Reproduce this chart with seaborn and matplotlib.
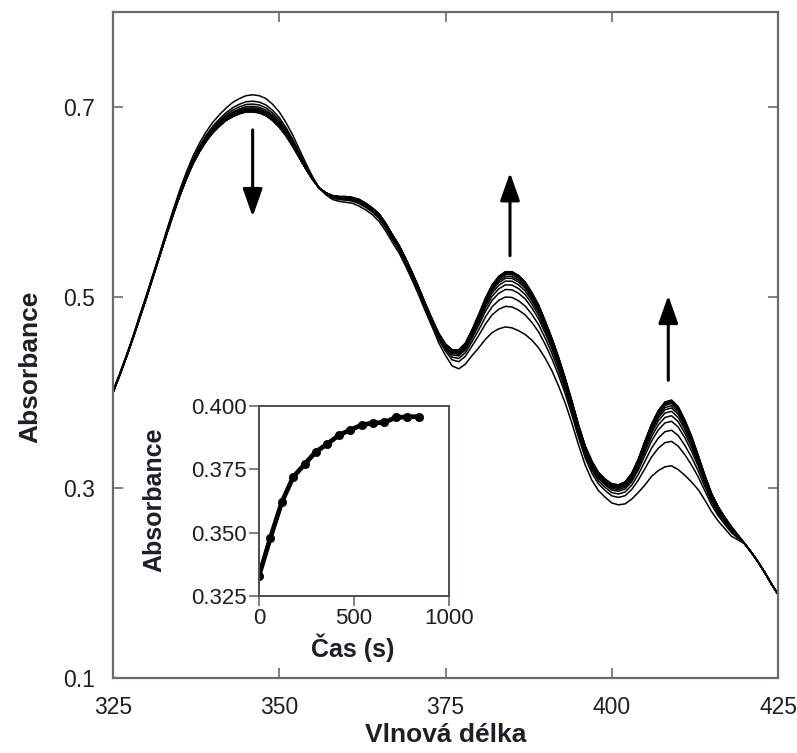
import numpy as np
import pandas as pd
import matplotlib
matplotlib.use("Agg")
import matplotlib.pyplot as plt
import seaborn as sns

sns.set_style("ticks")
plt.rcParams['font.family'] = ['Liberation Sans', 'DejaVu Sans']

# --- spektra (krok 1 nm) ---
wavelength = list(range(325, 426))
# prvni sken (t = 0)
abs_first = [0.402, 0.420, 0.439, 0.459, 0.481, 0.502, 0.524, 0.546, 0.569, 0.591,
             0.612, 0.631, 0.648, 0.662, 0.674, 0.684, 0.692, 0.699, 0.705, 0.709,
             0.712, 0.713, 0.712, 0.709, 0.703, 0.695, 0.684, 0.671, 0.656, 0.641,
             0.627, 0.615, 0.608, 0.603, 0.601, 0.600, 0.599, 0.596, 0.592, 0.587,
             0.580, 0.570, 0.558, 0.547, 0.533, 0.518, 0.502, 0.485, 0.469, 0.452,
             0.439, 0.428, 0.425, 0.430, 0.439, 0.447, 0.456, 0.463, 0.467, 0.469,
             0.468, 0.465, 0.461, 0.455, 0.447, 0.436, 0.423, 0.407, 0.389, 0.368,
             0.345, 0.324, 0.308, 0.297, 0.290, 0.284, 0.282, 0.283, 0.288, 0.295,
             0.303, 0.312, 0.318, 0.322, 0.323, 0.319, 0.313, 0.306, 0.298, 0.287,
             0.275, 0.265, 0.257, 0.249, 0.245, 0.241, 0.232, 0.222, 0.211, 0.199,
             0.188]
# posledni sken
abs_last = [0.400, 0.418, 0.437, 0.457, 0.478, 0.499, 0.521, 0.543, 0.565, 0.586,
            0.606, 0.624, 0.640, 0.653, 0.664, 0.673, 0.680, 0.686, 0.690, 0.693,
            0.695, 0.695, 0.694, 0.691, 0.686, 0.679, 0.670, 0.659, 0.647, 0.635,
            0.624, 0.615, 0.610, 0.607, 0.606, 0.606, 0.605, 0.603, 0.599, 0.594,
            0.588, 0.578, 0.566, 0.555, 0.541, 0.526, 0.510, 0.493, 0.477, 0.462,
            0.451, 0.445, 0.445, 0.452, 0.466, 0.482, 0.499, 0.513, 0.522, 0.527,
            0.527, 0.523, 0.516, 0.505, 0.492, 0.475, 0.457, 0.437, 0.415, 0.391,
            0.366, 0.344, 0.328, 0.316, 0.309, 0.304, 0.303, 0.306, 0.315, 0.330,
            0.349, 0.367, 0.381, 0.390, 0.392, 0.385, 0.371, 0.354, 0.334, 0.313,
            0.294, 0.280, 0.269, 0.259, 0.250, 0.241, 0.232, 0.222, 0.211, 0.199,
            0.188]
# vyska piku pri 385 nm pro kazdy sken
peak_385 = [0.468, 0.490, 0.500, 0.508, 0.513, 0.517, 0.520, 0.522, 0.524, 0.525,
            0.526, 0.527, 0.527]

# --- kinetika (inset) ---
kin_time = [0, 60, 120, 180, 240, 300, 360, 420, 480, 540, 600, 660, 720, 780, 840]
kin_abs = [0.333, 0.348, 0.362, 0.372, 0.377, 0.382, 0.385, 0.3885, 0.3905, 0.3925,
           0.3933, 0.3935, 0.3955, 0.3957, 0.3958]

# Sestaveni tabulky spekter (smes prvniho a posledniho skenu podle piku 385 nm)
first = np.array(abs_first)
last = np.array(abs_last)
rows = []
for i, p in enumerate(peak_385):
    frac = (p - peak_385[0]) / (peak_385[-1] - peak_385[0])
    spec = first + frac * (last - first)
    rows.append(pd.DataFrame({'wavelength': wavelength, 'absorbance': spec, 'scan': i}))
df = pd.concat(rows, ignore_index=True)

spine_col = '#6a6a72'
text_col = '#1e1e28'

fig = plt.figure(figsize=(7.97, 7.53), dpi=100)
ax = fig.add_axes([113/797, 1-678/753, 665/797, 666/753])

sns.lineplot(data=df, x='wavelength', y='absorbance', units='scan', estimator=None,
             color='black', lw=1.1, ax=ax, legend=False)

ax.set_xlim(325, 425)
ax.set_ylim(0.1, 0.8)
ax.set_xticks([325, 350, 375, 400, 425])
ax.set_yticks([0.1, 0.3, 0.5, 0.7])
ax.set_yticklabels(['0.1', '0.3', '0.5', '0.7'])
ax.tick_params(direction='in', length=7, width=1.2, colors=spine_col, labelcolor=text_col,
               labelsize=16.5, pad=13, top=True, right=True)
for s in ax.spines.values():
    s.set_color(spine_col)
    s.set_linewidth(1.6)

ax.set_xlabel('Vlnová délka', fontsize=19, fontweight='bold', color=text_col)
ax.set_ylabel('Absorbance', fontsize=19, fontweight='bold', color=text_col)
ax.xaxis.set_label_coords(0.5, -0.068)
ax.yaxis.set_label_coords(-0.107, 0.467)

# sipky
arrow_kw = dict(arrowstyle='-|>,head_width=0.6,head_length=1.7', lw=2.2, color='black')
ax.annotate('', xy=(346.0, 0.582), xytext=(346.0, 0.679), arrowprops=arrow_kw)
ax.annotate('', xy=(384.7, 0.634), xytext=(384.7, 0.541), arrowprops=arrow_kw)
ax.annotate('', xy=(408.5, 0.505), xytext=(408.5, 0.410), arrowprops=arrow_kw)

# --- inset ---
ins = fig.add_axes([259/797, 1-596/753, 190/797, 190/753])
sns.lineplot(x=kin_time, y=kin_abs, color='black', lw=3.4, ax=ins)
sns.scatterplot(x=kin_time, y=kin_abs, color='black', s=36, edgecolor='black', ax=ins)
ins.set_xlim(0, 1000)
ins.set_ylim(0.325, 0.400)
ins.set_xticks([0, 500, 1000])
ins.set_yticks([0.325, 0.350, 0.375, 0.400])
ins.set_yticklabels(['0.325', '0.350', '0.375', '0.400'])
ins.tick_params(direction='out', length=7, width=1.2, colors=spine_col, labelcolor=text_col,
                labelsize=16, pad=2)
for s in ins.spines.values():
    s.set_color('#4a4a5a')
    s.set_linewidth(1.4)
ins.set_xlabel('Čas (s)', fontsize=18, fontweight='bold', color=text_col)
ins.set_ylabel('Absorbance', fontsize=18, fontweight='bold', color=text_col)
ins.xaxis.set_label_coords(0.495, -0.2)
ins.yaxis.set_label_coords(-0.49, 0.505)

fig.savefig('out.png', dpi=100)
